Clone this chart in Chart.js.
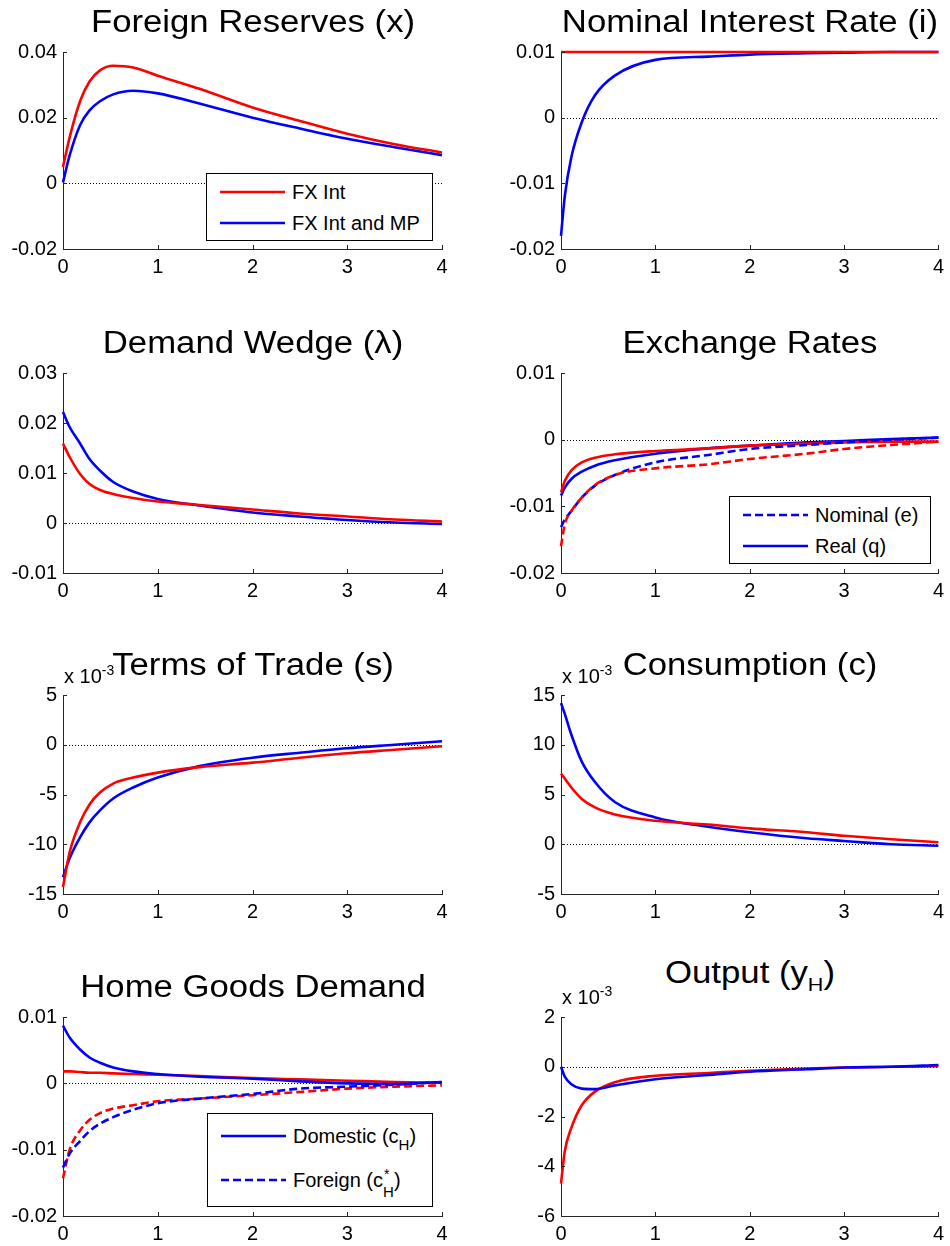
<!DOCTYPE html>
<html>
<head>
<meta charset="utf-8">
<script src="https://cdn.jsdelivr.net/npm/chart.js@4.4.0/dist/chart.umd.min.js"></script>
<style>
  body { margin: 0; width: 950px; height: 1246px; background: #fff; position: relative; overflow: hidden;
         font-family: "Liberation Sans", Arial, Helvetica, sans-serif; color: #000; }
  .panel { position: absolute; }
  .title { position: absolute; white-space: nowrap; font-size: 31px; line-height: 31px;
           transform: translateX(-50%) scaleX(1.12); }
  .title .sub { font-size: 0.62em; position: relative; top: 0.42em; }
  .expo { position: absolute; white-space: nowrap; font-size: 20px; line-height: 20px; }
  .expo sup { font-size: 14px; position: relative; top: -3px; vertical-align: top; line-height: 14px; }
  .legend { position: absolute; background: #fff; border: 1px solid #000; box-sizing: border-box; }
  .entry { position: absolute; left: 0; right: 0; height: 24px; font-size: 20px; line-height: 24px; white-space: nowrap; }
  .entry svg { position: absolute; left: 13px; top: 9px; }
  .entry .txt { position: absolute; left: 85px; top: 0; }
  .lsub { font-size: 15px; position: relative; top: 7px; }
  .stack { display: inline-block; position: relative; width: 11px; height: 10px; }
  .stack .s1 { position: absolute; left: 1px; top: -10px; font-size: 14px; line-height: 14px; }
  .stack .s2 { position: absolute; left: 0; top: 7px; font-size: 15px; line-height: 15px; }
</style>
</head>
<body>
<script>
/* impulse responses, eight panels, MATLAB look */

const FONT = "'Liberation Sans', Arial, Helvetica, sans-serif";
const RED = "#ff0000";
const BLUE = "#0000ff";

// time grids (left column panels / right column panels)
const X_LEFT = [0, 0.07, 0.18, 0.28, 0.39, 0.53, 0.74, 1, 1.44, 2, 2.5, 3, 3.5, 4];
const X_RIGHT = [0, 0.04, 0.11, 0.22, 0.36, 0.57, 1, 1.56, 2, 2.6, 3, 3.5, 4];
const X_TICKS = [0, 1, 2, 3, 4];

// Foreign Reserves (x)
const reservesFx = [0.005, 0.014, 0.025, 0.031, 0.0344, 0.0358, 0.0353, 0.0328, 0.0288, 0.0231, 0.019, 0.0151, 0.0119, 0.0094];
const reservesFxMp = [0.0003, 0.0085, 0.0177, 0.0222, 0.025, 0.0271, 0.0282, 0.0274, 0.0243, 0.020, 0.0167, 0.0136, 0.011, 0.0086];
const reservesTicks = [-0.02, 0, 0.02, 0.04];

// Nominal Interest Rate (i)
const rateFx = [0.01, 0.01, 0.01, 0.01, 0.01, 0.01, 0.01, 0.01, 0.01, 0.01, 0.01, 0.01, 0.01];
const rateFxMp = [-0.018, -0.012, -0.006, -0.0007, 0.0034, 0.0064, 0.0088, 0.0093, 0.0096, 0.0098, 0.0099, 0.01, 0.01];
const rateTicks = [-0.02, -0.01, 0, 0.01];

// Demand Wedge (lambda)
const wedgeFx = [0.0159, 0.0132, 0.0098, 0.0078, 0.0066, 0.0058, 0.005, 0.0043, 0.0036, 0.0027, 0.0019, 0.0013, 0.0007, 0.0003];
const wedgeFxMp = [0.0222, 0.0192, 0.0159, 0.0128, 0.0105, 0.0082, 0.0063, 0.0048, 0.0035, 0.0021, 0.0013, 0.0006, 0.0001, -0.0002];
const wedgeTicks = [-0.01, 0, 0.01, 0.02, 0.03];

// Exchange Rates
const nominalFx = [-0.016, -0.0127, -0.0107, -0.0087, -0.0068, -0.0053, -0.0043, -0.0037, -0.0029, -0.0021, -0.0014, -0.0008, -0.0003];
const nominalFxMp = [-0.0131, -0.012, -0.0107, -0.0087, -0.0069, -0.0053, -0.0034, -0.0023, -0.0014, -0.0008, -0.0004, 0.0, 0.0003];
const realFx = [-0.0079, -0.0062, -0.0046, -0.0034, -0.0027, -0.0022, -0.0017, -0.0013, -0.0009, -0.0006, -0.0004, -0.0003, -0.0003];
const realFxMp = [-0.0084, -0.0072, -0.0059, -0.0048, -0.0039, -0.0031, -0.0021, -0.0013, -0.0009, -0.0004, -0.0002, 0.0001, 0.0003];
const exchangeTicks = [-0.02, -0.01, 0, 0.01];

// Terms of Trade (s), in units of 10^-3
const tradeFx = [-14.3, -10.8, -7.8, -6.0, -4.8, -3.9, -3.3, -2.8, -2.25, -1.8, -1.3, -0.85, -0.5, -0.15];
const tradeFxMp = [-13.3, -11.4, -9.3, -7.8, -6.6, -5.4, -4.3, -3.3, -2.15, -1.3, -0.8, -0.35, 0.0, 0.35];
const tradeTicks = [-15, -10, -5, 0, 5];

// Consumption (c), in units of 10^-3
const consFx = [7.1, 6.6, 5.7, 4.55, 3.7, 3.0, 2.36, 1.98, 1.6, 1.2, 0.85, 0.5, 0.2];
const consFxMp = [14.2, 13.1, 11.0, 8.3, 6.25, 4.25, 2.7, 1.75, 1.2, 0.6, 0.33, 0.0, -0.15];
const consTicks = [-5, 0, 5, 10, 15];

// Home Goods Demand
const domesticFx = [0.0018, 0.0018, 0.0017, 0.0016, 0.0016, 0.0015, 0.0014, 0.0013, 0.0011, 0.0008, 0.0006, 0.0004, 0.0002, 0.0001];
const domesticFxMp = [0.0087, 0.0069, 0.0051, 0.0039, 0.0031, 0.0024, 0.0018, 0.0014, 0.001, 0.0007, 0.0003, 0.0, -0.0001, 0.0002];
const foreignFx = [-0.0143, -0.0100, -0.0071, -0.0055, -0.0045, -0.0038, -0.0033, -0.0027, -0.0023, -0.0018, -0.0013, -0.0008, -0.0005, -0.0003];
const foreignFxMp = [-0.0127, -0.0106, -0.0087, -0.0072, -0.0061, -0.0051, -0.004, -0.003, -0.0023, -0.0016, -0.0008, -0.0005, -0.0002, 0.0002];
const homeTicks = [-0.02, -0.01, 0, 0.01];

// Output (y_H), in units of 10^-3
const outputFx = [-4.7, -3.4, -2.45, -1.55, -1.0, -0.62, -0.36, -0.25, -0.16, -0.07, -0.03, 0.0, 0.02];
const outputFxMp = [0.0, -0.4, -0.7, -0.88, -0.9, -0.75, -0.5, -0.33, -0.2, -0.1, -0.03, 0.0, 0.07];
const outputTicks = [-6, -4, -2, 0, 2];

// page layout of the plot boxes
const COL_LEFT = [0, 475];
const PLOT_LEFT = [63, 86];
const PAD_RIGHT = [33, 11];
const ROW_TOP = [52, 373, 695, 1017];
const ROW_H = [197, 200, 199, 199];

function line(xs, ys, color, dashed) {
  return {
    data: xs.map((x, i) => ({ x, y: ys[i] })),
    borderColor: color,
    borderWidth: 2.6,
    borderDash: dashed ? [8, 4] : [],
    pointRadius: 0,
    cubicInterpolationMode: "monotone",
    fill: false,
    clip: false,
  };
}

const PANELS = [
  { row: 0, col: 0, title: "Foreign Reserves (x)", ticks: reservesTicks,
    series: [line(X_LEFT, reservesFx, RED), line(X_LEFT, reservesFxMp, BLUE)],
    legend: { left: 206, top: 173, width: 227, height: 68, rows: [
      { y: 18, color: RED, dashed: false, html: "FX Int" },
      { y: 49, color: BLUE, dashed: false, html: "FX Int and MP" }] } },
  { row: 0, col: 1, title: "Nominal Interest Rate (i)", ticks: rateTicks,
    series: [line(X_RIGHT, rateFx, RED), line(X_RIGHT, rateFxMp, BLUE)] },
  { row: 1, col: 0, title: "Demand Wedge (\u03bb)", ticks: wedgeTicks,
    series: [line(X_LEFT, wedgeFx, RED), line(X_LEFT, wedgeFxMp, BLUE)] },
  { row: 1, col: 1, title: "Exchange Rates", ticks: exchangeTicks,
    series: [line(X_RIGHT, nominalFx, RED, true), line(X_RIGHT, nominalFxMp, BLUE, true),
             line(X_RIGHT, realFx, RED), line(X_RIGHT, realFxMp, BLUE)],
    legend: { left: 729, top: 496, width: 202, height: 68, rows: [
      { y: 18, color: BLUE, dashed: true, html: "Nominal (e)" },
      { y: 49, color: BLUE, dashed: false, html: "Real (q)" }] } },
  { row: 2, col: 0, title: "Terms of Trade (s)", ticks: tradeTicks, expo: true,
    series: [line(X_LEFT, tradeFx, RED), line(X_LEFT, tradeFxMp, BLUE)] },
  { row: 2, col: 1, title: "Consumption (c)", ticks: consTicks, expo: true,
    series: [line(X_RIGHT, consFx, RED), line(X_RIGHT, consFxMp, BLUE)] },
  { row: 3, col: 0, title: "Home Goods Demand", ticks: homeTicks,
    series: [line(X_LEFT, foreignFxMp, BLUE, true), line(X_LEFT, foreignFx, RED, true),
             line(X_LEFT, domesticFxMp, BLUE), line(X_LEFT, domesticFx, RED)],
    legend: { left: 207, top: 1113, width: 226, height: 94, rows: [
      { y: 22, color: BLUE, dashed: false, html: 'Domestic (c<span class="lsub">H</span>)' },
      { y: 66, color: BLUE, dashed: true, html: 'Foreign (c<span class="stack"><span class="s1">*</span><span class="s2">H</span></span>)' }] } },
  { row: 3, col: 1, title: 'Output (y<span class="sub">H</span>)', ticks: outputTicks, expo: true, raise: 14,
    series: [line(X_RIGHT, outputFxMp, BLUE), line(X_RIGHT, outputFx, RED)] },
];

function fmt(v) {
  return String(Number(v.toFixed(4)));
}

const matlabAxes = {
  id: "matlabAxes",
  beforeDatasetsDraw(chart) {
    const { ctx, chartArea: a, scales: { y } } = chart;
    const y0 = Math.round(y.getPixelForValue(0)) + 0.5;
    ctx.save();
    ctx.strokeStyle = "#000";
    ctx.lineWidth = 1;
    ctx.setLineDash([1, 2]);
    ctx.beginPath();
    ctx.moveTo(a.left, y0);
    ctx.lineTo(a.right, y0);
    ctx.stroke();
    ctx.restore();
  },
  afterDatasetsDraw(chart) {
    const { ctx, chartArea: a, scales: { x, y } } = chart;
    ctx.save();
    ctx.strokeStyle = "#262626";
    ctx.lineWidth = 1;
    ctx.beginPath();
    x.ticks.forEach((t) => {
      const px = Math.round(x.getPixelForValue(t.value)) + 0.5;
      ctx.moveTo(px, a.bottom);
      ctx.lineTo(px, a.bottom - 4);
    });
    y.ticks.forEach((t) => {
      const py = Math.round(y.getPixelForValue(t.value)) + 0.5;
      ctx.moveTo(a.left, py);
      ctx.lineTo(a.left + 4, py);
    });
    ctx.stroke();
    ctx.restore();
  },
};

function addDiv(cls, html, style) {
  const el = document.createElement("div");
  el.className = cls;
  el.innerHTML = html;
  Object.assign(el.style, style);
  document.body.appendChild(el);
  return el;
}

function buildPanel(p) {
  const top = ROW_TOP[p.row] - 20;
  const height = 20 + ROW_H[p.row] + 40;
  const box = addDiv("panel", "", { left: COL_LEFT[p.col] + "px", top: top + "px", width: "475px", height: height + "px" });
  const canvas = document.createElement("canvas");
  canvas.width = 475;
  canvas.height = height;
  box.appendChild(canvas);

  const ticks = p.ticks;
  new Chart(canvas, {
    type: "line",
    data: { datasets: p.series },
    options: {
      responsive: false,
      animation: false,
      events: [],
      layout: { padding: { top: 20, right: PAD_RIGHT[p.col], bottom: 0, left: 0 } },
      plugins: { legend: { display: false }, tooltip: { enabled: false } },
      scales: {
        x: {
          type: "linear", min: 0, max: 4,
          afterBuildTicks: (s) => { s.ticks = X_TICKS.map((v) => ({ value: v })); },
          afterFit: (s) => { s.height = 40; },
          grid: { display: false, drawTicks: false },
          border: { display: true, color: "#262626", width: 1 },
          ticks: { color: "#000", font: { family: FONT, size: 20 }, padding: 6, maxRotation: 0, autoSkip: false, callback: (v) => fmt(v) },
        },
        y: {
          type: "linear", min: ticks[0], max: ticks[ticks.length - 1],
          afterBuildTicks: (s) => { s.ticks = ticks.map((v) => ({ value: v })); },
          afterFit: (s) => { s.width = PLOT_LEFT[p.col]; },
          grid: { display: false, drawTicks: false },
          border: { display: true, color: "#262626", width: 1 },
          ticks: { color: "#000", font: { family: FONT, size: 20 }, padding: 6, autoSkip: false, callback: (v) => fmt(v) },
        },
      },
    },
    plugins: [matlabAxes],
  });

  const plotLeft = COL_LEFT[p.col] + PLOT_LEFT[p.col];
  const plotRight = COL_LEFT[p.col] + 475 - PAD_RIGHT[p.col];
  const baseline = ROW_TOP[p.row] - 20 - (p.raise || 0);
  addDiv("title", p.title, { left: (plotLeft + plotRight) / 2 + "px", top: baseline - 26 + "px" });

  if (p.expo) {
    const eb = ROW_TOP[p.row] - 12 - (p.raise ? 1 : 0);
    addDiv("expo", "x 10<sup>-3</sup>", { left: plotLeft + 1 + "px", top: eb - 17 + "px" });
  }

  if (p.legend) {
    const lg = p.legend;
    const el = addDiv("legend", "", { left: lg.left + "px", top: lg.top + "px", width: lg.width + "px", height: lg.height + "px" });
    lg.rows.forEach((r) => {
      const dash = r.dashed ? ' stroke-dasharray="8 4"' : "";
      const entry = document.createElement("div");
      entry.className = "entry";
      entry.style.top = r.y - 12 + "px";
      entry.innerHTML = `<svg width="65" height="6"><line x1="0" y1="3" x2="65" y2="3" stroke="${r.color}" stroke-width="2.6"${dash}/></svg><span class="txt">${r.html}</span>`;
      el.appendChild(entry);
    });
  }
}

PANELS.forEach(buildPanel);
</script>
</body>
</html>
